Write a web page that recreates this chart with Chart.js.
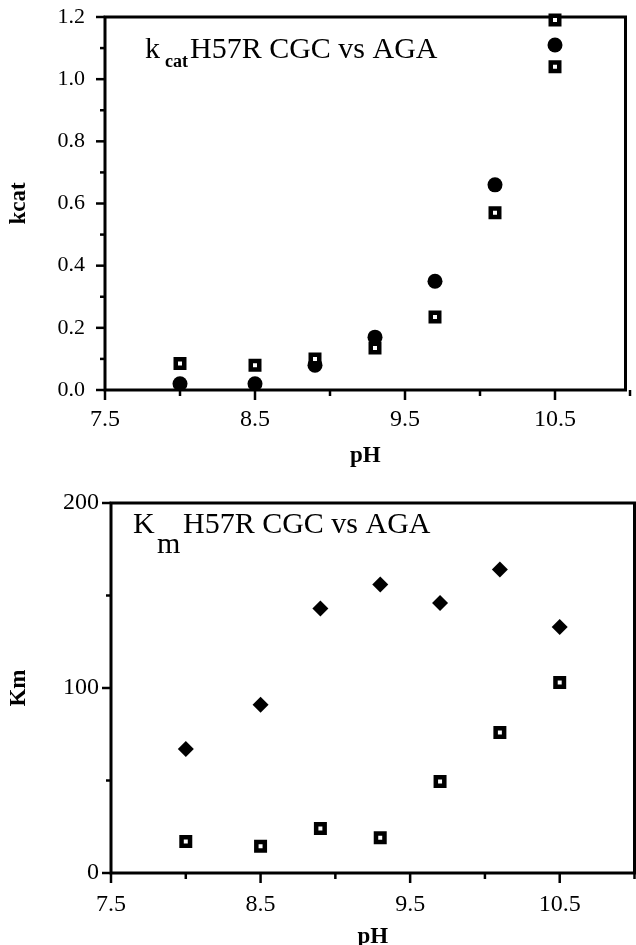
<!DOCTYPE html>
<html>
<head>
<meta charset="utf-8">
<script src="https://cdn.jsdelivr.net/npm/chart.js@4.4.0/dist/chart.umd.min.js"></script>
<style>
html, body { margin: 0; padding: 0; background: #fff; overflow: hidden; }
#kcatChart { position: absolute; left: 0; top: 0; }
#kmChart { position: absolute; left: 0; top: 470px; }
</style>
</head>
<body>
<canvas id="kcatChart" width="636" height="470"></canvas>
<canvas id="kmChart" width="645" height="485"></canvas>
<script>
// pH values shared by both panels
const phValues = [8.0, 8.5, 8.9, 9.3, 9.7, 10.1, 10.5];

// kcat panel
const kcatCircle = [0.02, 0.02, 0.08, 0.17, 0.35, 0.66, 1.11];
const kcatSquare = [0.085, 0.08, 0.10, 0.135, 0.235, 0.57, 1.04];
const kcatExtraPh = [10.5];
const kcatExtraSquare = [1.19];

// Km panel
const kmDiamond = [67, 91, 143, 156, 146, 164, 133];
const kmSquare = [17, 14.5, 24, 19, 49.5, 76, 103];

// tick labels
const phTicks = [7.5, 8.5, 9.5, 10.5];
const phMinorTicks = [8.0, 9.0, 10.0, 11.0];
const kcatTicks = [0, 0.2, 0.4, 0.6, 0.8, 1.0, 1.2];
const kcatMinorTicks = [0.1, 0.3, 0.5, 0.7, 0.9, 1.1];
const kmTicks = [0, 100, 200];
const kmMinorTicks = [50, 150];

Chart.defaults.font.family = "'Liberation Serif', 'Times New Roman', serif";
Chart.defaults.color = '#000';

let toPoints = (xs, ys) => xs.map((x, i) => ({x: x, y: ys[i]}));

let setTicks = (list) => (scale) => {
    scale.ticks = list.map(v => ({value: v}));
};

// box round the plot and the tick marks
let framePlugin = {
    id: 'frame',
    beforeDatasetsDraw(chart, args, o) {
        const ctx = chart.ctx;
        const a = chart.chartArea;
        const xs = chart.scales.x;
        const ys = chart.scales.y;
        let seg = (x1, y1, x2, y2) => {
            ctx.beginPath();
            ctx.moveTo(x1, y1);
            ctx.lineTo(x2, y2);
            ctx.stroke();
        };
        ctx.save();
        ctx.strokeStyle = '#000';
        ctx.lineWidth = 3;
        ctx.strokeRect(a.left, a.top, a.right - a.left, a.bottom - a.top);
        ctx.lineWidth = 2.5;
        o.xMajor.forEach(v => { const p = xs.getPixelForValue(v); seg(p, a.bottom, p, a.bottom + 10); });
        o.xMinor.forEach(v => { const p = xs.getPixelForValue(v); seg(p, a.bottom, p, a.bottom + 6); });
        o.yMajor.forEach(v => { const p = ys.getPixelForValue(v); seg(a.left - 9, p, a.left, p); });
        o.yMinor.forEach(v => { const p = ys.getPixelForValue(v); seg(a.left - 5, p, a.left, p); });
        ctx.restore();
    }
};

// in-plot label with a subscript
let labelPlugin = {
    id: 'plotLabel',
    afterDraw(chart, args, o) {
        const ctx = chart.ctx;
        const a = chart.chartArea;
        ctx.save();
        ctx.fillStyle = '#000';
        ctx.textBaseline = 'alphabetic';
        ctx.textAlign = 'left';
        ctx.font = o.mainFont;
        ctx.fillText(o.main, a.left + o.dx, a.top + o.dy);
        ctx.font = o.subFont;
        ctx.fillText(o.sub, a.left + o.subDx, a.top + o.dy + o.subDy);
        ctx.font = o.mainFont;
        ctx.fillText(o.rest, a.left + o.restDx, a.top + o.dy);
        ctx.restore();
    }
};

let axisX = (axisHeight, max, pad, titlePad) => ({
    type: 'linear',
    min: 7.5,
    max: max,
    afterBuildTicks: setTicks(phTicks),
    afterFit: (s) => {
        s.height = axisHeight;
        s.paddingLeft = 0;
        s.paddingRight = 0;
    },
    grid: {display: false, drawTicks: false},
    border: {display: false},
    ticks: {
        padding: pad,
        font: {size: 24},
        callback: (v) => v.toFixed(1)
    },
    title: {
        display: true,
        text: 'pH',
        font: {size: 23, weight: 'bold', lineHeight: 1},
        padding: {top: 0, bottom: titlePad}
    }
});

let axisY = (axisWidth, min, max, ticks, digits, size, pad, name) => ({
    type: 'linear',
    min: min,
    max: max,
    afterBuildTicks: setTicks(ticks),
    afterFit: (s) => {
        s.width = axisWidth;
        s.paddingTop = 0;
        s.paddingBottom = 0;
    },
    grid: {display: false, drawTicks: false},
    border: {display: false},
    ticks: {
        padding: pad,
        font: {size: size},
        callback: (v) => v.toFixed(digits)
    },
    title: {
        display: true,
        text: name,
        font: {size: 23, weight: 'bold', lineHeight: 1},
        padding: {top: 8, bottom: 0}
    }
});

let squareStyle = {
    pointStyle: 'rect',
    pointRadius: 6,
    pointBackgroundColor: '#fff',
    pointBorderColor: '#000',
    pointBorderWidth: 4.5,
    showLine: false
};

new Chart(document.getElementById('kcatChart'), {
    type: 'scatter',
    data: {
        datasets: [
            Object.assign({data: toPoints(phValues, kcatSquare)}, squareStyle),
            Object.assign({data: toPoints(kcatExtraPh, kcatExtraSquare)}, squareStyle),
            {
                data: toPoints(phValues, kcatCircle),
                pointStyle: 'circle',
                pointRadius: 7.5,
                pointBackgroundColor: '#000',
                pointBorderColor: '#000',
                pointBorderWidth: 0,
                showLine: false
            }
        ]
    },
    options: {
        responsive: false,
        animation: false,
        devicePixelRatio: 1,
        clip: false,
        layout: {padding: {top: 17, right: 4, left: 0, bottom: 0}},
        scales: {
            x: axisX(80, 10.97, 15, 2),
            y: axisY(105, 0, 1.2, kcatTicks, 1, 22, 20, 'kcat')
        },
        plugins: {
            legend: {display: false},
            tooltip: {enabled: false},
            frame: {xMajor: phTicks, xMinor: phMinorTicks, yMajor: kcatTicks, yMinor: kcatMinorTicks},
            plotLabel: {
                main: 'k', sub: 'cat', rest: 'H57R CGC vs AGA',
                mainFont: "30px 'Liberation Serif'", subFont: "bold 18px 'Liberation Serif'",
                dx: 40, dy: 41, subDx: 60, subDy: 9, restDx: 85
            }
        }
    },
    plugins: [framePlugin, labelPlugin]
});

new Chart(document.getElementById('kmChart'), {
    type: 'scatter',
    data: {
        datasets: [
            Object.assign({data: toPoints(phValues, kmSquare)}, squareStyle),
            {
                data: toPoints(phValues, kmDiamond),
                pointStyle: 'rectRot',
                pointRadius: 8,
                pointBackgroundColor: '#000',
                pointBorderColor: '#000',
                pointBorderWidth: 0,
                showLine: false
            }
        ]
    },
    options: {
        responsive: false,
        animation: false,
        devicePixelRatio: 1,
        clip: false,
        layout: {padding: {top: 33, right: 4, left: 0, bottom: 0}},
        scales: {
            x: axisX(82, 11, 17, 6),
            y: axisY(111, 0, 200, kmTicks, 0, 24, 12, 'Km')
        },
        plugins: {
            legend: {display: false},
            tooltip: {enabled: false},
            frame: {xMajor: phTicks, xMinor: phMinorTicks, yMajor: kmTicks, yMinor: kmMinorTicks},
            plotLabel: {
                main: 'K', sub: 'm', rest: 'H57R CGC vs AGA',
                mainFont: "30px 'Liberation Serif'", subFont: "30px 'Liberation Serif'",
                dx: 22, dy: 30, subDx: 46, subDy: 20, restDx: 72
            }
        }
    },
    plugins: [framePlugin, labelPlugin]
});
</script>
</body>
</html>
